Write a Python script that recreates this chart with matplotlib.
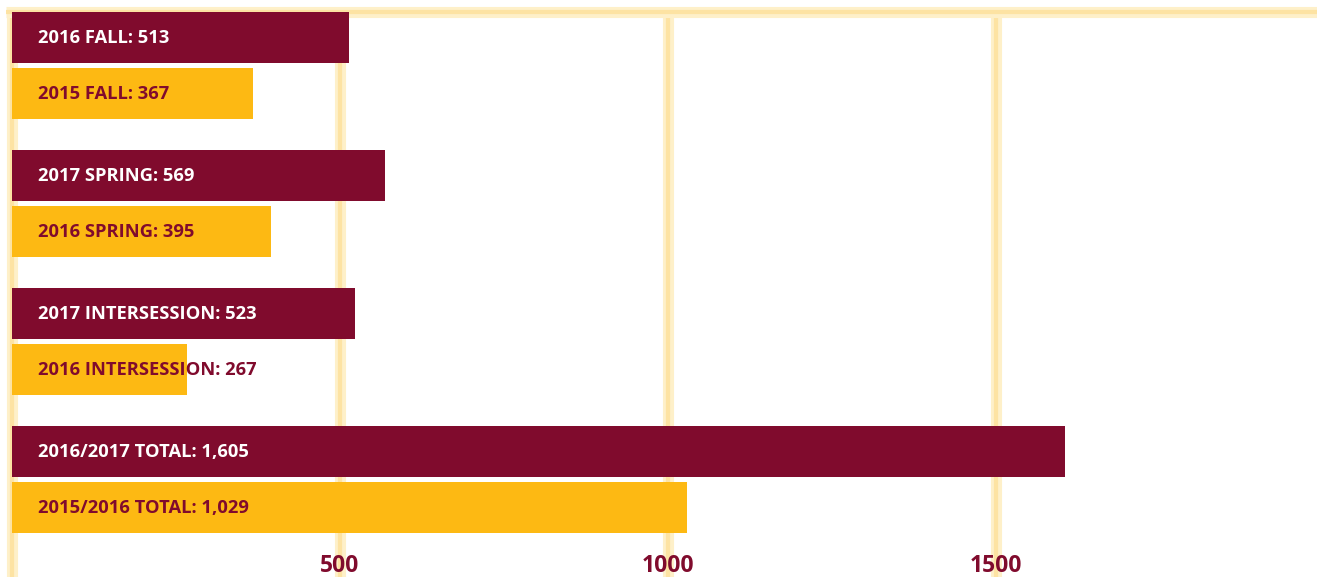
import matplotlib
matplotlib.use("Agg")
import matplotlib.pyplot as plt

groups = ["FALL", "SPRING", "INTERSESSION", "TOTAL"]
labels_new = ["2016 FALL", "2017 SPRING", "2017 INTERSESSION", "2016/2017 TOTAL"]
labels_old = ["2015 FALL", "2016 SPRING", "2016 INTERSESSION", "2015/2016 TOTAL"]
values_new = [513, 569, 523, 1605]
values_old = [367, 395, 267, 1029]
xticks = [500, 1000, 1500]

MAROON = "#800B2D"
GOLD = "#FDB913"
GRID_OUT = "#FEF0C9"
GRID_IN = "#FDE3A3"

plt.rcParams['font.family'] = ['Open Sans', 'DejaVu Sans']

fig = plt.figure(figsize=(13.17, 5.77), dpi=100)
ax = fig.add_axes([0, 0, 1, 1])
ax.set_xlim(-18.3, 1989.3)
ax.set_ylim(3.710, -0.471)

top = -0.384
# grid lines
for v in [0] + xticks:
    ax.vlines(v, top, 3.71, color=GRID_OUT, lw=8.0, zorder=1)
    ax.vlines(v, top, 3.71, color=GRID_IN, lw=3.0, zorder=1)
ax.hlines(top, -9, 1989.3, color=GRID_OUT, lw=8.0, zorder=1)
ax.hlines(top, -9, 1989.3, color=GRID_IN, lw=3.0, zorder=1)

h = 0.366
off = 0.203
shift = 0.004
for i in range(len(groups)):
    ax.barh(i - off + shift, values_new[i], height=h, color=MAROON, zorder=3)
    ax.barh(i + off + shift, values_old[i], height=h, color=GOLD, zorder=3)
    ax.text(40, i - off + shift, f"{labels_new[i]}: {values_new[i]:,}", color="white",
            fontsize=13.2, fontweight="bold", va="center", ha="left", zorder=4)
    ax.text(40, i + off + shift, f"{labels_old[i]}: {values_old[i]:,}", color=MAROON,
            fontsize=13.2, fontweight="bold", va="center", ha="left", zorder=4)

ax.set_xticks(xticks)
ax.set_xticklabels([str(t) for t in xticks])
ax.tick_params(axis='x', length=0, pad=-16.5, labelsize=16.5, labelcolor=MAROON)
for lab in ax.get_xticklabels():
    lab.set_fontweight("bold")
ax.set_yticks([])
for s in ax.spines.values():
    s.set_visible(False)

fig.savefig("out.png", dpi=100)
